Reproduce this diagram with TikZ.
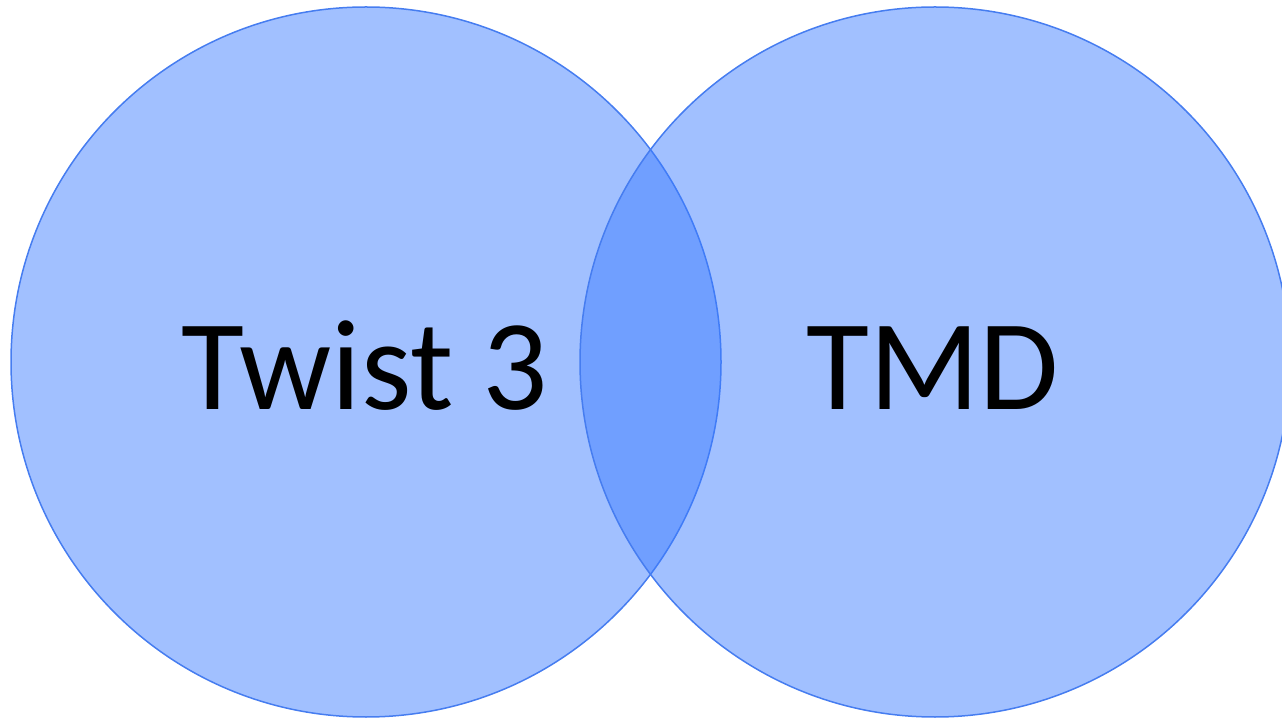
\documentclass[tikz,border=0pt]{standalone}
\usepackage{fontspec}
\setmainfont{Carlito}
\definecolor{vfill}{RGB}{59,123,255}
\definecolor{vline}{RGB}{70,125,240}
\begin{document}
\begin{tikzpicture}[x=1pt,y=1pt,
  venn/.style={circle, minimum size=710pt, inner sep=0pt, fill=vfill, fill opacity=0.48, draw=vline, draw opacity=1, line width=1.5pt},
  lbl/.style={font=\fontsize{129}{136}\selectfont, text=black, inner sep=0pt, anchor=base}]
\useasboundingbox (0,0) rectangle (1282,718);
\clip (0,0) rectangle (1282,718);
\node[venn] (left) at (366,356) {};
\node[venn] (right) at (935,356) {};
\node[lbl] (t3) at (365,308) {Twist 3};
\node[lbl] (tmd) at (933,308) {TMD};
\end{tikzpicture}
\end{document}
